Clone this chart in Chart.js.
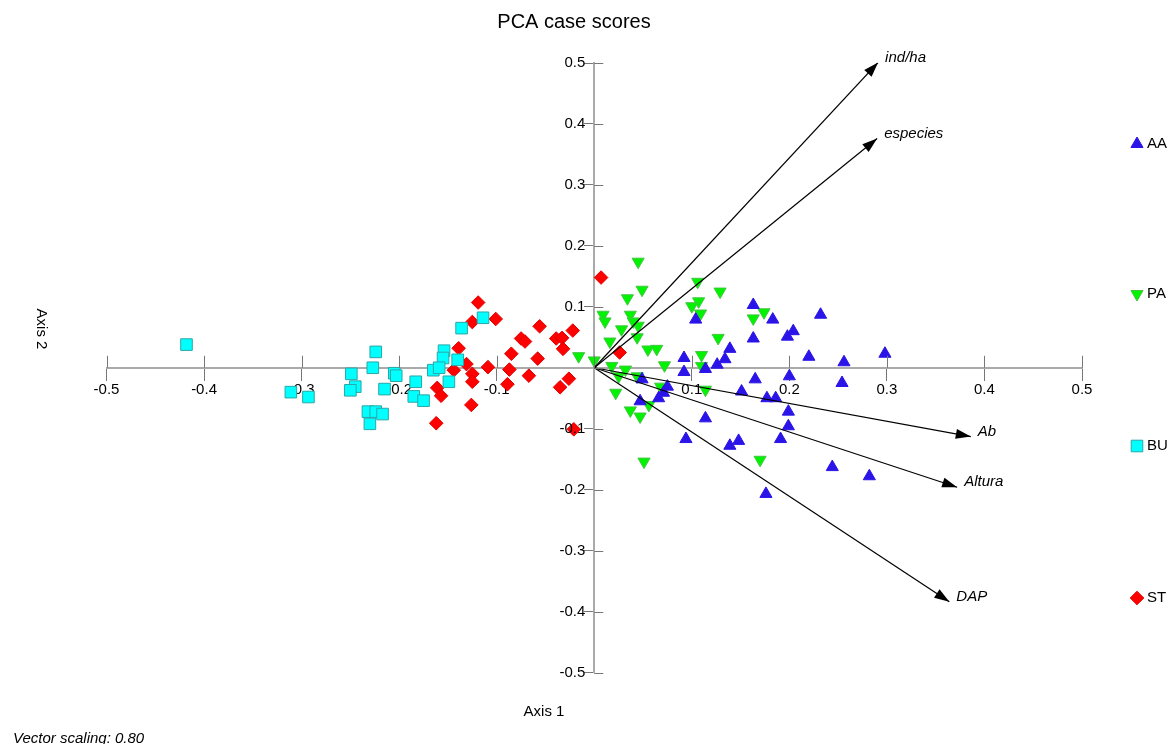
<!DOCTYPE html>
<html>
<head>
<meta charset="utf-8">
<title>PCA case scores</title>
<script src="https://cdn.jsdelivr.net/npm/chart.js@4.4.1/dist/chart.umd.min.js"></script>
<style>
  html, body { margin: 0; padding: 0; background: #fff; }
</style>
</head>
<body>
<canvas id="pcaChart" width="1171" height="744"></canvas>
<script>
// case scores, one pair of arrays per group
const groupNames = ['AA', 'PA', 'BU', 'ST'];

const aaX = [0.163, 0.104, 0.183, 0.163, 0.198, 0.204, 0.139, 0.134, 0.126, 0.092, 0.092, 0.114, 0.049, 0.075, 0.071, 0.066, 0.047, 0.165, 0.151, 0.177, 0.186, 0.200, 0.114, 0.094, 0.139, 0.148, 0.191, 0.232, 0.220, 0.256, 0.298, 0.254, 0.199, 0.199, 0.244, 0.282, 0.176];
const aaY = [0.103, 0.079, 0.079, 0.048, 0.051, 0.060, 0.031, 0.014, 0.005, 0.016, -0.007, -0.002, -0.019, -0.031, -0.041, -0.050, -0.055, -0.019, -0.039, -0.050, -0.050, -0.014, -0.083, -0.117, -0.128, -0.120, -0.117, 0.087, 0.018, 0.009, 0.023, -0.025, -0.072, -0.096, -0.163, -0.178, -0.207];

const paX = [0.045, 0.049, 0.034, 0.009, 0.011, 0.037, 0.045, 0.028, 0.040, 0.044, 0.016, 0.055, 0.064, 0.000, 0.072, 0.018, 0.032, 0.025, 0.044, 0.022, 0.068, 0.056, 0.037, 0.047, 0.051, 0.106, 0.129, 0.107, 0.100, 0.109, 0.127, 0.110, 0.110, 0.114, 0.170, 0.174, 0.163, -0.016];
const paY = [0.174, 0.128, 0.114, 0.087, 0.076, 0.087, 0.069, 0.063, 0.076, 0.050, 0.043, 0.030, 0.031, 0.012, 0.004, 0.003, -0.003, -0.014, -0.014, -0.041, -0.031, -0.061, -0.070, -0.080, -0.154, 0.141, 0.125, 0.109, 0.101, 0.089, 0.049, 0.021, 0.003, -0.036, -0.151, 0.091, 0.081, 0.019];

const buX = [-0.418, -0.311, -0.293, -0.249, -0.245, -0.250, -0.224, -0.227, -0.205, -0.203, -0.215, -0.232, -0.224, -0.217, -0.230, -0.136, -0.114, -0.154, -0.155, -0.140, -0.165, -0.159, -0.149, -0.183, -0.185, -0.175];
const buY = [0.038, -0.040, -0.048, -0.010, -0.031, -0.037, 0.026, 0.000, -0.009, -0.013, -0.035, -0.072, -0.072, -0.076, -0.092, 0.065, 0.082, 0.028, 0.016, 0.013, -0.004, 0.000, -0.023, -0.023, -0.047, -0.054];

const stX = [-0.119, -0.125, -0.101, -0.139, -0.131, -0.144, -0.125, -0.125, -0.109, -0.161, -0.157, -0.126, -0.162, -0.085, -0.087, -0.089, -0.075, -0.071, -0.056, -0.058, -0.067, -0.039, -0.033, -0.022, -0.032, -0.026, -0.035, -0.021, 0.007, 0.026];
const stY = [0.107, 0.075, 0.080, 0.032, 0.006, -0.004, -0.010, -0.023, 0.001, -0.033, -0.046, -0.061, -0.091, 0.023, -0.003, -0.027, 0.048, 0.043, 0.068, 0.015, -0.013, 0.048, 0.049, 0.061, 0.031, -0.018, -0.032, -0.101, 0.148, 0.025];

// biplot vectors (tips, already scaled)
const vectorNames = ['ind/ha', 'especies', 'Ab', 'Altura', 'DAP'];
const vectorX = [0.291, 0.290, 0.386, 0.372, 0.364];
const vectorY = [0.501, 0.376, -0.113, -0.196, -0.384];

const tickValues = [-0.5, -0.4, -0.3, -0.2, -0.1, 0, 0.1, 0.2, 0.3, 0.4, 0.5];

function toPoints(xs, ys) {
    return xs.map((x, i) => ({ x: x, y: ys[i] }));
}

function tickText(v) {
    if (Math.abs(v) < 1e-9) return '';
    return v.toFixed(1);
}

const FONT = '"Liberation Sans", Arial, sans-serif';
Chart.defaults.font.family = FONT;
Chart.defaults.font.size = 15;
Chart.defaults.color = '#000';

const groupStyles = [
    { pointStyle: 'triangle', rotation: 0,   radius: 7,   fill: '#2b14e8', border: '#2b14e8' },
    { pointStyle: 'triangle', rotation: 180, radius: 7,   fill: '#00f400', border: '#44c444' },
    { pointStyle: 'rect',     rotation: 0,   radius: 8.2, fill: '#00ffff', border: '#2aa7a7' },
    { pointStyle: 'rectRot',  rotation: 0,   radius: 6.8, fill: '#ff0000', border: '#e00000' }
];
const groupData = [toPoints(aaX, aaY), toPoints(paX, paY), toPoints(buX, buY), toPoints(stX, stY)];

const datasets = groupNames.map((name, i) => ({
    label: name,
    data: groupData[i],
    pointStyle: groupStyles[i].pointStyle,
    pointRotation: groupStyles[i].rotation,
    pointRadius: groupStyles[i].radius,
    pointBackgroundColor: groupStyles[i].fill,
    pointBorderColor: groupStyles[i].border,
    pointBorderWidth: 1
}));

vectorNames.forEach((name, i) => {
    datasets.push({
        label: name,
        data: [{ x: 0, y: 0 }, { x: vectorX[i], y: vectorY[i] }],
        showLine: true,
        pointRadius: 0,
        borderColor: '#000',
        borderWidth: 1.2,
        order: -1
    });
});

// title, axis names, y labels, arrowheads, legend and the other half of the ticks
const pcaDecor = {
    id: 'pcaDecor',
    afterDraw(chart) {
        const ctx = chart.ctx;
        const xs = chart.scales.x;
        const ys = chart.scales.y;
        const x0 = xs.getPixelForValue(0);
        const y0 = ys.getPixelForValue(0);
        ctx.save();

        ctx.strokeStyle = '#777';
        ctx.lineWidth = 1;
        tickValues.forEach(v => {
            const px = Math.round(xs.getPixelForValue(v)) + 0.5;
            ctx.beginPath();
            ctx.moveTo(px, y0 - 12);
            ctx.lineTo(px, y0);
            ctx.stroke();
            const py = Math.round(ys.getPixelForValue(v)) + 0.5;
            ctx.beginPath();
            ctx.moveTo(x0, py);
            ctx.lineTo(x0 + 9, py);
            ctx.stroke();
        });

        // y tick labels, left of the crossing ticks
        ctx.fillStyle = '#000';
        ctx.font = '15px ' + FONT;
        ctx.textAlign = 'right';
        ctx.textBaseline = 'middle';
        tickValues.forEach(v => {
            const t = tickText(v);
            if (t) ctx.fillText(t, x0 - 9, ys.getPixelForValue(v));
        });

        ctx.font = 'italic 15px ' + FONT;
        ctx.textAlign = 'left';
        vectorNames.forEach((name, i) => {
            const tx = xs.getPixelForValue(vectorX[i]);
            const ty = ys.getPixelForValue(vectorY[i]);
            const ang = Math.atan2(ty - y0, tx - x0);
            const len = 15, half = 5;
            const bx = tx - len * Math.cos(ang);
            const by = ty - len * Math.sin(ang);
            ctx.beginPath();
            ctx.moveTo(tx, ty);
            ctx.lineTo(bx + half * Math.sin(ang), by - half * Math.cos(ang));
            ctx.lineTo(bx - half * Math.sin(ang), by + half * Math.cos(ang));
            ctx.closePath();
            ctx.fill();
            ctx.fillText(name, tx + 7, ty - 5);
        });

        ctx.font = '20px ' + FONT;
        ctx.textAlign = 'center';
        ctx.fillText('PCA case scores', 574, 22);

        ctx.font = '15px ' + FONT;
        ctx.fillText('Axis 1', 544, 712);
        ctx.save();
        ctx.translate(41, 329);
        ctx.rotate(Math.PI / 2);
        ctx.fillText('Axis 2', 0, 0);
        ctx.restore();

        ctx.font = 'italic 15px ' + FONT;
        ctx.textAlign = 'left';
        ctx.textBaseline = 'alphabetic';
        ctx.fillText('Vector scaling: 0.80', 13, 743);

        // legend
        const legendY = [144, 294, 446, 598];
        ctx.textBaseline = 'middle';
        ctx.font = '15px ' + FONT;
        groupNames.forEach((name, i) => {
            const st = groupStyles[i];
            ctx.fillStyle = st.fill;
            ctx.strokeStyle = st.border;
            ctx.lineWidth = 1;
            Chart.helpers.drawPoint(ctx, {
                pointStyle: st.pointStyle,
                rotation: st.rotation,
                radius: st.radius,
                borderWidth: 1
            }, 1137, legendY[i]);
            ctx.fillStyle = '#000';
            ctx.fillText(name, 1147, legendY[i]);
        });

        ctx.restore();
    }
};

new Chart(document.getElementById('pcaChart'), {
    type: 'scatter',
    data: { datasets: datasets },
    options: {
        responsive: false,
        animation: false,
        events: [],
        layout: { padding: { left: 106.5, right: 89, top: 63, bottom: 71.5 } },
        plugins: {
            legend: { display: false },
            title: { display: false },
            tooltip: { enabled: false }
        },
        scales: {
            x: {
                type: 'linear',
                min: -0.5,
                max: 0.5,
                position: { y: 0 },
                ticks: { stepSize: 0.1, padding: 1, autoSkip: false, maxRotation: 0, callback: tickText },
                grid: { drawOnChartArea: false, tickLength: 12, tickColor: '#777' },
                border: { color: '#aaa', width: 2 }
            },
            y: {
                type: 'linear',
                min: -0.5,
                max: 0.5,
                position: { x: 0 },
                ticks: { display: false, stepSize: 0.1 },
                grid: { drawOnChartArea: false, tickLength: 9, tickColor: '#777' },
                border: { color: '#aaa', width: 2 }
            }
        }
    },
    plugins: [pcaDecor]
});
</script>
</body>
</html>
